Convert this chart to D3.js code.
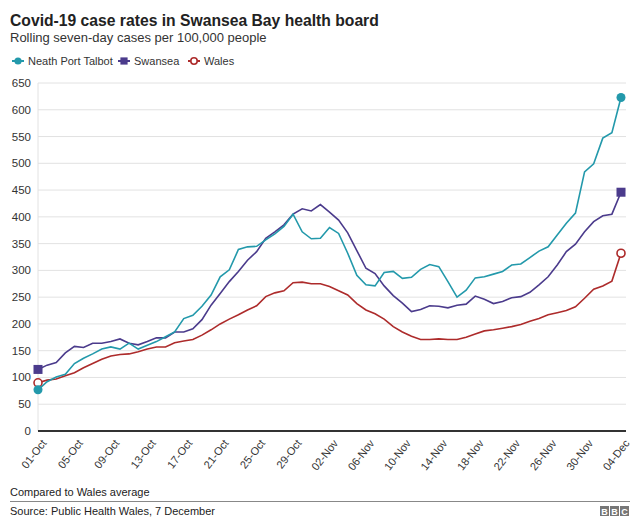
<!DOCTYPE html>
<html>
<head>
<meta charset="utf-8">
<script src="https://cdn.jsdelivr.net/npm/d3@7"></script>
<style>
  body { margin: 0; background: #fff; }
  svg { display: block; font-family: 'Liberation Sans', Arial, sans-serif; }
</style>
</head>
<body>
<svg></svg>
<script>
// first day of the series, one value per day after it
const startDate = new Date(2020, 9, 1)
const tickLabels = ['01-Oct', '05-Oct', '09-Oct', '13-Oct', '17-Oct', '21-Oct', '25-Oct', '29-Oct',
    '02-Nov', '06-Nov', '10-Nov', '14-Nov', '18-Nov', '22-Nov', '26-Nov', '30-Nov', '04-Dec']
const yTicks = [0, 50, 100, 150, 200, 250, 300, 350, 400, 450, 500, 550, 600, 650]

const neathPortTalbot = [77, 92, 101, 106, 126, 136, 144, 153, 157, 153, 164, 153, 160, 167, 176, 185,
    210, 216, 233, 254, 288, 301, 339, 344, 345, 357, 368, 382, 405, 372, 359, 360, 380, 369, 332, 291,
    273, 271, 296, 298, 285, 287, 302, 311, 307, 279, 250, 263, 286, 288, 293, 298, 310, 312, 324, 336,
    344, 366, 388, 407, 484, 499, 547, 557, 623]
const swansea = [115, 123, 128, 146, 158, 156, 164, 164, 167, 172, 164, 161, 167, 174, 174, 185,
    185, 191, 208, 235, 257, 279, 298, 319, 335, 360, 372, 385, 405, 415, 411, 423, 409, 394, 370, 337,
    304, 294, 271, 253, 239, 223, 227, 234, 233, 230, 235, 237, 252, 246, 238, 242, 249, 251, 259, 273,
    288, 310, 335, 349, 372, 391, 402, 405, 446]
const wales = [90, 95, 97, 103, 109, 118, 126, 134, 140, 143, 144, 148, 153, 157, 157, 165,
    168, 171, 179, 189, 200, 209, 217, 226, 234, 251, 258, 262, 277, 278, 275, 275, 270, 262, 254, 238,
    226, 219, 209, 195, 185, 177, 171, 171, 172, 171, 171, 175, 181, 187, 189, 192, 195, 199, 205, 210,
    217, 221, 225, 232, 248, 265, 271, 280, 332]

const seriesNames = ['Neath Port Talbot', 'Swansea', 'Wales']
const seriesColors = ['#2399ab', '#4b3b8c', '#ad2b2b']
const seriesMarkers = ['circle', 'square', 'ring']

const width = 640,
    height = 531
const svg = d3.select('svg').attr('width', width).attr('height', height)

const dates = neathPortTalbot.map((d, i) => d3.timeDay.offset(startDate, i))
const x = d3.scaleTime().domain([dates[0], dates[dates.length - 1]]).range([38, 621])
const y = d3.scaleLinear().domain([0, 650]).range([431, 83])

// titles
svg.append('text')
    .attr('x', 10).attr('y', 26)
    .attr('font-size', 15.7).attr('font-weight', 'bold').attr('fill', '#222')
    .text('Covid-19 case rates in Swansea Bay health board')
svg.append('text')
    .attr('x', 10).attr('y', 42)
    .attr('font-size', 13).attr('fill', '#333')
    .text('Rolling seven-day cases per 100,000 people')

// grid + y labels
const grid = svg.append('g')
grid.selectAll('line')
    .data(yTicks.filter((d) => d > 0))
    .join('line')
    .attr('x1', 38).attr('x2', 626)
    .attr('y1', (d) => y(d)).attr('y2', (d) => y(d))
    .attr('stroke', '#e2e2e2')
grid.append('line')
    .attr('x1', 38).attr('x2', 38)
    .attr('y1', y(650)).attr('y2', y(0))
    .attr('stroke', '#e2e2e2')
grid.selectAll('text')
    .data(yTicks)
    .join('text')
    .attr('x', 31).attr('y', (d) => y(d))
    .attr('dy', '0.35em')
    .attr('text-anchor', 'end')
    .attr('font-size', 11.5).attr('fill', '#333')
    .text((d) => d)

// x axis
svg.append('line')
    .attr('x1', 38).attr('x2', 626)
    .attr('y1', y(0)).attr('y2', y(0))
    .attr('stroke', '#333').attr('stroke-width', 2)

const tickDates = tickLabels.map((d, i) => dates[i * 4])
svg.append('g')
    .selectAll('text')
    .data(tickDates)
    .join('text')
    .attr('transform', (d) => `translate(${x(d) + 6},${y(0) + 10}) rotate(-52)`)
    .attr('dy', '0.35em')
    .attr('text-anchor', 'end')
    .attr('font-size', 11).attr('fill', '#333')
    .text((d, i) => tickLabels[i])

// lines
const series = [neathPortTalbot, swansea, wales]
const line = d3.line()
    .x((d, i) => x(dates[i]))
    .y((d) => y(d))

function marker(g, type, color, cx, cy, s = 1) {
    if (type === 'circle') {
        g.append('circle').attr('cx', cx).attr('cy', cy).attr('r', 4.5 * s).attr('fill', color)
    } else if (type === 'square') {
        g.append('rect').attr('x', cx - 4.5 * s).attr('y', cy - 4.5 * s)
            .attr('width', 9 * s).attr('height', 9 * s).attr('fill', color)
    } else {
        g.append('circle').attr('cx', cx).attr('cy', cy).attr('r', 4 * s)
            .attr('fill', '#fff').attr('stroke', color).attr('stroke-width', 1.6)
    }
}

// draw Wales first so the others sit on top
;[2, 1, 0].forEach((k) => {
    const g = svg.append('g')
    g.append('path')
        .datum(series[k])
        .attr('fill', 'none')
        .attr('stroke', seriesColors[k])
        .attr('stroke-width', 1.6)
        .attr('d', line)
    const last = series[k].length - 1
    marker(g, seriesMarkers[k], seriesColors[k], x(dates[0]), y(series[k][0]))
    marker(g, seriesMarkers[k], seriesColors[k], x(dates[last]), y(series[k][last]))
})

// legend
const legendX = [12, 118, 188]
const legend = svg.append('g')
seriesNames.forEach((name, k) => {
    const lx = legendX[k]
    const ly = 61
    legend.append('line')
        .attr('x1', lx).attr('x2', lx + 12)
        .attr('y1', ly).attr('y2', ly)
        .attr('stroke', seriesColors[k]).attr('stroke-width', 2)
    marker(legend, seriesMarkers[k], seriesColors[k], lx + 6, ly, 0.8)
    legend.append('text')
        .attr('x', lx + 16).attr('y', ly)
        .attr('dy', '0.35em')
        .attr('font-size', 11).attr('fill', '#333')
        .text(name)
})

// footer
svg.append('text')
    .attr('x', 10).attr('y', 496)
    .attr('font-size', 11).attr('fill', '#222')
    .text('Compared to Wales average')
svg.append('line')
    .attr('x1', 10).attr('x2', 630)
    .attr('y1', 501.5).attr('y2', 501.5)
    .attr('stroke', '#888')
svg.append('text')
    .attr('x', 10).attr('y', 515)
    .attr('font-size', 11).attr('fill', '#222')
    .text('Source: Public Health Wales, 7 December')

const bbc = svg.append('g').attr('transform', 'translate(600,506)')
;['B', 'B', 'C'].forEach((c, i) => {
    bbc.append('rect')
        .attr('x', i * 10).attr('y', 0)
        .attr('width', 9).attr('height', 10)
        .attr('fill', '#777')
    bbc.append('text')
        .attr('x', i * 10 + 4.5).attr('y', 8.5)
        .attr('text-anchor', 'middle')
        .attr('font-size', 9).attr('font-weight', 'bold').attr('fill', '#fff')
        .text(c)
})
</script>
</body>
</html>
